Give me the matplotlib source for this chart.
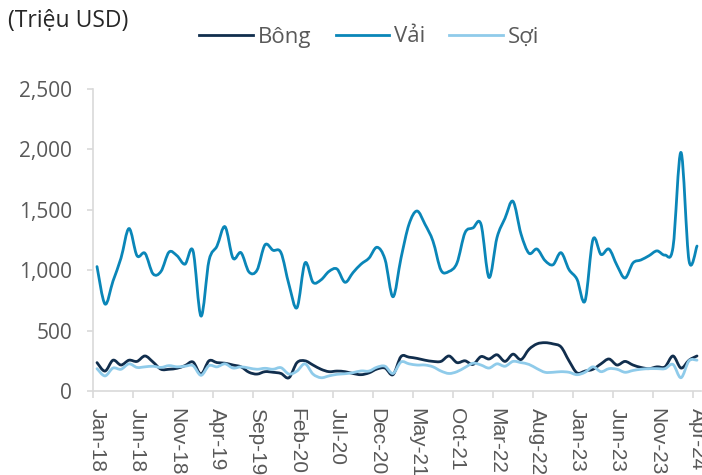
import numpy as np
import matplotlib
matplotlib.use('Agg')
import matplotlib.pyplot as plt
from matplotlib.path import Path
from matplotlib.patches import PathPatch
from matplotlib.lines import Line2D

# monthly values, Jan-18 .. Apr-24 (76 months), million USD
bong = [235, 165, 255, 215, 255, 245, 290, 240, 180, 180, 188, 210,
        240, 140, 250, 235, 230, 215, 200, 155, 140, 160, 155, 145,
        110, 235, 250, 215, 180, 160, 165, 160, 145, 135, 150, 182,
        190, 135, 285, 280, 270, 255, 245, 245, 290, 235, 250, 220,
        285, 265, 300, 245, 305, 260, 345, 390, 400, 390, 365, 250,
        150, 165, 180, 225, 265, 215, 245, 215, 195, 185, 200, 200,
        290, 190, 255, 290]
vai = [1030, 720, 910, 1100, 1345, 1120, 1140, 970, 990, 1150, 1120, 1050,
       1160, 620, 1080, 1200, 1360, 1100, 1145, 985, 1000, 1210, 1165, 1145,
       880, 690, 1060, 900, 920, 990, 1010, 900, 980, 1050, 1100, 1190,
       1090, 780, 1100, 1380, 1490, 1380, 1240, 1000, 990, 1060, 1310, 1350,
       1380, 940, 1270, 1430, 1570, 1300, 1140, 1175, 1080, 1045, 1145, 1005,
       925, 745, 1255, 1130, 1175, 1040, 935, 1060, 1085, 1120, 1160, 1125,
       1190, 1975, 1080, 1200]
soi = [185, 125, 190, 180, 225, 195, 200, 205, 195, 210, 200, 205,
       210, 130, 210, 200, 225, 190, 200, 190, 180, 188, 180, 193,
       140, 165, 225, 140, 110, 125, 138, 143, 152, 166, 165, 197,
       205, 145, 240, 225, 215, 215, 200, 165, 145, 160, 195, 230,
       215, 190, 225, 205, 245, 235, 220, 185, 155, 155, 160, 155,
       135, 155, 200, 160, 185, 180, 155, 170, 180, 185, 185, 185,
       220, 110, 250, 255]

tick_labels = ['Jan-18', 'Jun-18', 'Nov-18', 'Apr-19', 'Sep-19', 'Feb-20',
               'Jul-20', 'Dec-20', 'May-21', 'Oct-21', 'Mar-22', 'Aug-22',
               'Jan-23', 'Jun-23', 'Nov-23', 'Apr-24']
series_names = ['Bông', 'Vải', 'Sợi']
colors = ['#112e4d', '#0a86b8', '#8fcbea']

TXT = ['Open Sans', 'DejaVu Sans']
GRAY = '#595959'


def smooth_path(y):
    # excel-like smoothed line: cubic bezier through every point
    pts = np.column_stack([np.arange(len(y)), np.asarray(y, float)])
    ext = np.vstack([pts[0], pts, pts[-1]])
    verts = [pts[0]]
    codes = [Path.MOVETO]
    for i in range(len(pts) - 1):
        p0, p1, p2, p3 = ext[i], ext[i + 1], ext[i + 2], ext[i + 3]
        verts += [p1 + (p2 - p0) / 6, p2 - (p3 - p1) / 6, p2]
        codes += [Path.CURVE4] * 3
    return Path(verts, codes)


fig = plt.figure(figsize=(7.02, 4.75), dpi=100)
ax = fig.add_axes([93 / 702, 84 / 475, 608 / 702, 302 / 475])

for data, c in zip([bong, vai, soi], colors):
    ax.add_patch(PathPatch(smooth_path(data), fill=False, edgecolor=c,
                           lw=2.0, capstyle='round', joinstyle='round'))

n = len(vai)
ax.set_xlim(-0.5, n - 0.5)
ax.set_ylim(0, 2500)

ax.set_yticks(range(0, 2501, 500))
ax.set_yticklabels([f'{v:,}' for v in range(0, 2501, 500)],
                   fontsize=15, color=GRAY, family=TXT)
ax.tick_params(axis='y', length=4, width=1.2, color='#d9d9d9', pad=11)

major = list(range(0, n, 5))
ax.set_xticks(major)
ax.set_xticklabels(tick_labels, rotation=270, fontsize=15, color=GRAY,
                   family=['Liberation Sans'], va='top', ha='center')
ax.set_xticks([m - 0.5 for m in major], minor=True)
ax.tick_params(axis='x', which='major', length=0, pad=12)
ax.tick_params(axis='x', which='minor', length=5, width=1.2, color='#d9d9d9')

for s in ['top', 'right']:
    ax.spines[s].set_visible(False)
for s in ['left', 'bottom']:
    ax.spines[s].set_color('#d9d9d9')
    ax.spines[s].set_linewidth(1.2)

fig.text(8 / 702, 1 - 21 / 475, '(Triệu USD)', fontsize=16.5, color='#262626',
         family=TXT, va='center', ha='left')

handles = [Line2D([], [], color=c, lw=2.0) for c in colors]
fig.legend(handles, series_names, loc='center', bbox_to_anchor=(0.526, 1 - 37 / 475),
           ncol=3, frameon=False, handlelength=2.4, handletextpad=0.22,
           columnspacing=1.1, prop={'family': TXT, 'size': 16}, labelcolor=GRAY)

fig.savefig('out.png', dpi=100)
